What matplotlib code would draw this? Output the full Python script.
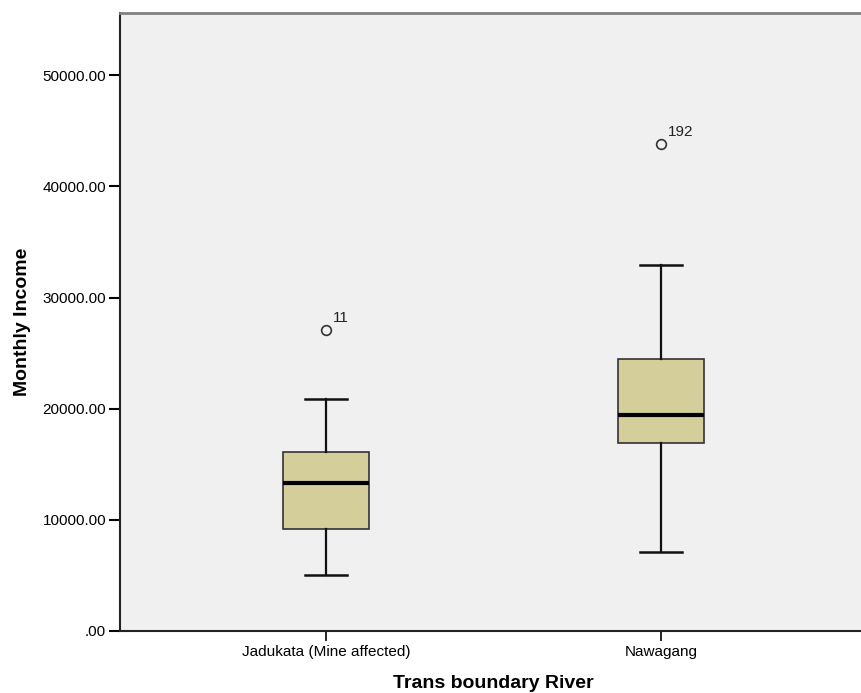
import matplotlib
matplotlib.use("Agg")
import matplotlib.pyplot as plt

# values (SPSS style boxplot)
groups = ["Jadukata (Mine affected)", "Nawagang"]
whisker_low = [5036, 7100]
q1 = [9200, 16930]
median = [13340, 19420]
q3 = [16070, 24430]
whisker_high = [20860, 32970]
outliers = [[27070], [43770]]
outlier_ids = [["11"], ["192"]]
yticks = [0, 10000, 20000, 30000, 40000, 50000]

plt.rcParams['font.family'] = ['Liberation Sans', 'DejaVu Sans']

fig = plt.figure(figsize=(8.61, 6.93), dpi=100)
ax = fig.add_axes([120 / 861, 62 / 693, 747 / 861, 618 / 693])
ax.set_facecolor("#f0f0f0")

stats = []
for i, g in enumerate(groups):
    stats.append(dict(label=g, whislo=whisker_low[i], q1=q1[i], med=median[i],
                      q3=q3[i], whishi=whisker_high[i], fliers=outliers[i]))

pos = [1, 2]
ax.bxp(stats, positions=pos, widths=0.254, patch_artist=True, showfliers=True,
       boxprops=dict(facecolor="#d3ce9a", edgecolor="#333333", linewidth=1.2),
       medianprops=dict(color="black", linewidth=3),
       whiskerprops=dict(color="#111111", linewidth=1.6),
       capprops=dict(color="#111111", linewidth=1.8),
       capwidths=0.127,
       flierprops=dict(marker="o", markerfacecolor="none", markeredgecolor="#333333",
                       markersize=7, markeredgewidth=1.2))

for i, p in enumerate(pos):
    for v, lab in zip(outliers[i], outlier_ids[i]):
        ax.annotate(lab, (p, v), xytext=(5, 4), textcoords="offset points",
                    fontsize=11, ha="left", va="bottom", color="#222222")

ax.set_xlim(0.385, 2.615)
ax.set_ylim(0, 55600)
ax.set_yticks(yticks)
ax.set_yticklabels([".00" if t == 0 else "%.2f" % t for t in yticks])
ax.set_xticks(pos)
ax.set_xticklabels(groups)
ax.tick_params(axis="y", length=8, width=1.5, labelsize=11, pad=2)
ax.tick_params(axis="x", length=7, width=1.2, labelsize=11, pad=3)

for side in ["left", "bottom"]:
    ax.spines[side].set_color("#222222")
    ax.spines[side].set_linewidth(1.5)
ax.spines["top"].set_color("#808080")
ax.spines["top"].set_linewidth(2)
ax.spines["right"].set_visible(False)

ax.set_ylabel("Monthly Income", fontsize=14, fontweight="bold", labelpad=8)
ax.set_xlabel("Trans boundary River", fontsize=14, fontweight="bold", labelpad=11.5)

fig.savefig("out.png", dpi=100)
